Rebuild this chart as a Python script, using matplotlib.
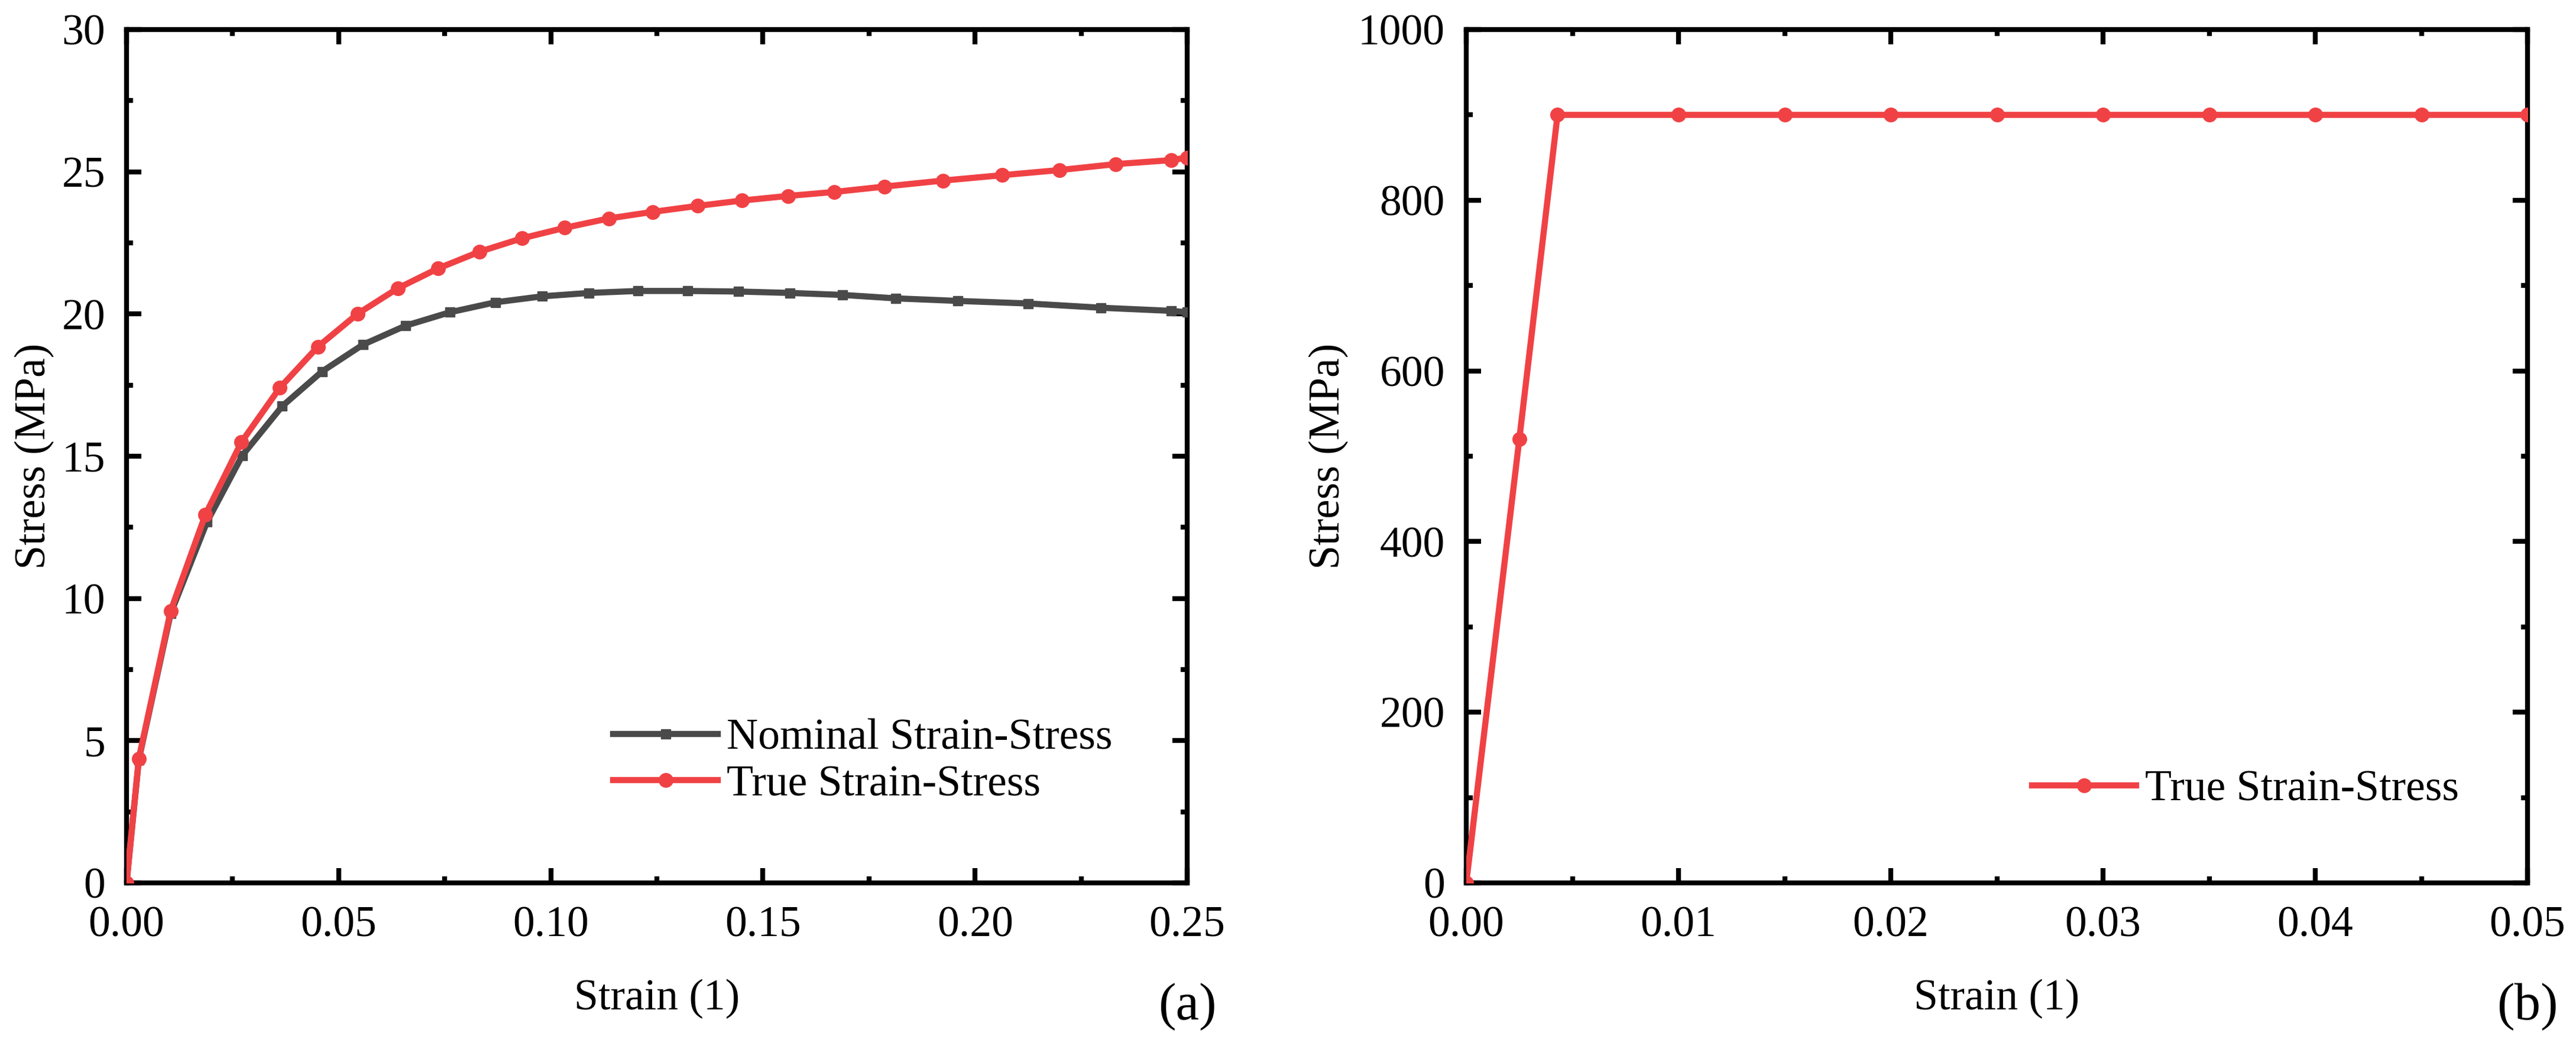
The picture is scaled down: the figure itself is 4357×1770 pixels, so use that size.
import matplotlib
matplotlib.use("Agg")
import matplotlib.pyplot as plt
from matplotlib.ticker import MultipleLocator, FormatStrFormatter

plt.rcParams['font.family'] = ['Liberation Serif', 'DejaVu Serif']

# ---------------- data ----------------
# (a) nominal strain-stress
nominal_strain = [0.0, 0.0029, 0.0104, 0.0190, 0.0273, 0.0367, 0.0461, 0.0557, 0.0658,
                  0.0762, 0.0869, 0.0979, 0.1090, 0.1205, 0.1322, 0.1443, 0.1564, 0.1688,
                  0.1813, 0.1959, 0.2125, 0.2297, 0.2463, 0.2500]
nominal_stress = [0.0, 4.33, 9.47, 12.70, 15.03, 16.76, 17.98, 18.92, 19.59,
                  20.06, 20.41, 20.62, 20.74, 20.81, 20.81, 20.79, 20.74, 20.67,
                  20.55, 20.46, 20.37, 20.22, 20.11, 20.06]
# (a) true strain-stress
true_strain_a = [0.0, 0.0029, 0.0104, 0.0186, 0.0271, 0.0361, 0.0451, 0.0545, 0.0639,
                 0.0734, 0.0832, 0.0932, 0.1033, 0.1137, 0.1240, 0.1346, 0.1451, 0.1559,
                 0.1668, 0.1787, 0.1924, 0.2064, 0.2199, 0.2332, 0.2463, 0.2500]
true_stress_a = [0.0, 4.37, 9.56, 12.95, 15.50, 17.40, 18.85, 20.01, 20.90,
                 21.60, 22.19, 22.66, 23.03, 23.36, 23.59, 23.80, 23.99, 24.15,
                 24.29, 24.48, 24.69, 24.88, 25.06, 25.27, 25.41, 25.50]
# (b) true strain-stress (elastic-perfectly plastic)
true_strain_b = [0.0, 0.0025, 0.0043, 0.010, 0.015, 0.020, 0.025, 0.030, 0.035, 0.040, 0.045, 0.050]
true_stress_b = [0, 520, 900, 900, 900, 900, 900, 900, 900, 900, 900, 900]

labels_a = ["Nominal Strain-Stress", "True Strain-Stress"]
label_b = "True Strain-Stress"
xlabel = "Strain (1)"
ylabel = "Stress (MPa)"

RED = '#F04245'
GREY = '#4A4A4A'

W, H = 4357, 1770
fig = plt.figure(figsize=(W / 100, H / 100), dpi=100)

ax_top = 50
ax_bot = 1494
axA = fig.add_axes([214 / W, 1 - ax_bot / H, 1794 / W, (ax_bot - ax_top) / H])
axB = fig.add_axes([2480 / W, 1 - ax_bot / H, 1795 / W, (ax_bot - ax_top) / H])

FS = 53
LW = 7.5

def style(ax):
    for s in ax.spines.values():
        s.set_linewidth(6)
    ax.tick_params(which='both', direction='in', top=True, right=True, width=6,
                   labelsize=FS, colors='black')
    ax.tick_params(which='major', length=18)
    ax.tick_params(which='minor', length=8)
    ax.tick_params(axis='x', which='both', pad=28)
    ax.tick_params(axis='y', which='both', pad=26)

# ----- panel (a) -----
axA.plot(nominal_strain, nominal_stress, color=GREY, lw=LW, marker='s', ms=12,
         label=labels_a[0], zorder=3)
axA.plot(true_strain_a, true_stress_a, color=RED, lw=LW, marker='o', ms=17,
         label=labels_a[1], zorder=4)
axA.set_xlim(0, 0.25)
axA.set_ylim(0, 30)
axA.xaxis.set_major_locator(MultipleLocator(0.05))
axA.xaxis.set_minor_locator(MultipleLocator(0.025))
axA.yaxis.set_major_locator(MultipleLocator(5))
axA.yaxis.set_minor_locator(MultipleLocator(2.5))
axA.xaxis.set_major_formatter(FormatStrFormatter('%.2f'))
axA.yaxis.set_major_formatter(FormatStrFormatter('%d'))
style(axA)
axA.set_xlabel(xlabel, fontsize=FS)
axA.set_ylabel(ylabel, fontsize=FS)
axA.xaxis.set_label_coords(0.5, -0.113)
axA.yaxis.set_label_coords(-0.068, 0.5)
axA.legend(loc='center left', bbox_to_anchor=(0.459, 0.142), frameon=False,
           fontsize=FS, handlelength=2.4, handletextpad=0.2, labelspacing=0.15,
           borderpad=0, borderaxespad=0)
axA.text(1.0, -0.160, '(a)', transform=axA.transAxes, ha='center', va='baseline',
         fontsize=64)

# ----- panel (b) -----
axB.plot(true_strain_b, true_stress_b, color=RED, lw=LW, marker='o', ms=17,
         label=label_b, zorder=4)
axB.set_xlim(0, 0.05)
axB.set_ylim(0, 1000)
axB.xaxis.set_major_locator(MultipleLocator(0.01))
axB.xaxis.set_minor_locator(MultipleLocator(0.005))
axB.yaxis.set_major_locator(MultipleLocator(200))
axB.yaxis.set_minor_locator(MultipleLocator(100))
axB.xaxis.set_major_formatter(FormatStrFormatter('%.2f'))
axB.yaxis.set_major_formatter(FormatStrFormatter('%d'))
style(axB)
axB.set_xlabel(xlabel, fontsize=FS)
axB.set_ylabel(ylabel, fontsize=FS)
axB.xaxis.set_label_coords(0.5, -0.113)
axB.yaxis.set_label_coords(-0.111, 0.5)
axB.legend(loc='center left', bbox_to_anchor=(0.533, 0.109), frameon=False,
           fontsize=FS, handlelength=2.4, handletextpad=0.2,
           borderpad=0, borderaxespad=0)
axB.text(1.0, -0.160, '(b)', transform=axB.transAxes, ha='center', va='baseline',
         fontsize=64)

fig.savefig('out.png', dpi=100)
